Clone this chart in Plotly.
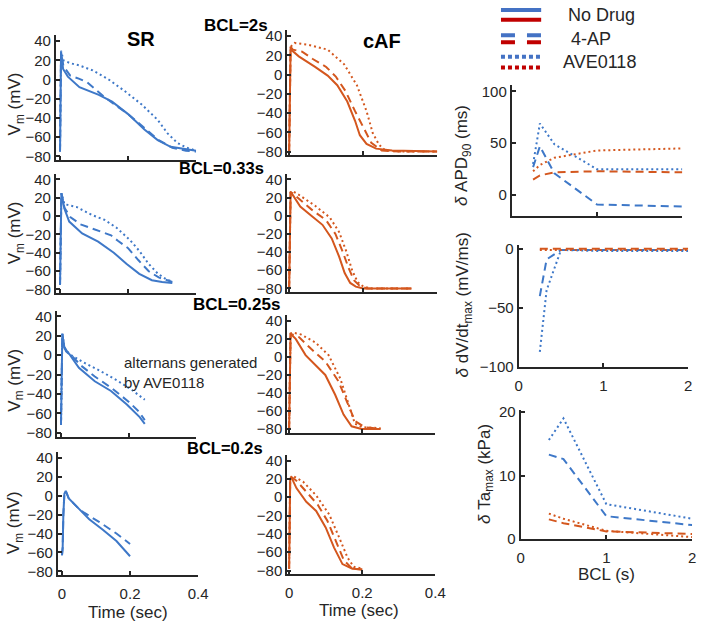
import plotly.graph_objects as go

W, H = 708, 630
FONT = "Liberation Sans, Arial, sans-serif"
AX = "#262626"
BLUE = "#3E78C8"
ORANGE = "#D4571E"
LEG_BLUE = "#4472C4"
LEG_RED = "#C00000"

# ---------------- data: SR action potentials (time s, Vm mV) ----------------
sr2_t_nd = [0, 0.003, 0.009, 0.023, 0.057, 0.114, 0.153, 0.2, 0.248, 0.287, 0.325, 0.373, 0.4]
sr2_v_nd = [-75, 29, 11, 3, -8, -16, -23, -36, -52, -63, -70, -73, -74]
sr2_t_4ap = [0, 0.003, 0.01, 0.03, 0.055, 0.08, 0.1, 0.13, 0.16, 0.2, 0.25, 0.29, 0.33, 0.37, 0.4]
sr2_v_4ap = [-75, 28, 14, 4, 1, -3, -9, -18, -26, -36, -51, -63, -71, -74, -75]
sr2_t_ave = [0, 0.003, 0.01, 0.03, 0.057, 0.096, 0.143, 0.19, 0.24, 0.287, 0.316, 0.345, 0.373, 0.4]
sr2_v_ave = [-75, 30, 20, 17, 14.6, 9.5, 0, -12, -26, -42, -56, -66, -71, -74]

sr33_t_nd = [0, 0.004, 0.013, 0.027, 0.065, 0.112, 0.158, 0.195, 0.233, 0.27, 0.3, 0.33]
sr33_v_nd = [-75, 25, 8, -6, -19, -28, -40, -52, -63, -70, -72, -73]
sr33_t_4ap = [0, 0.004, 0.013, 0.03, 0.06, 0.09, 0.12, 0.15, 0.17, 0.2, 0.23, 0.26, 0.29, 0.33]
sr33_v_4ap = [-75, 25, 9, -1, -9, -13, -17, -21, -27, -35, -48, -60, -67, -72]
sr33_t_ave = [0, 0.004, 0.013, 0.048, 0.095, 0.13, 0.167, 0.205, 0.233, 0.26, 0.288, 0.316, 0.33]
sr33_v_ave = [-75, 25, 13, 10, 1, -4, -13, -26, -38, -52, -63, -70, -71]

sr25_t_nd = [0, 0.004, 0.01, 0.015, 0.025, 0.053, 0.1, 0.148, 0.195, 0.233, 0.248]
sr25_v_nd = [-72, 22, 8, 4, 1, -13, -27, -37, -51, -64, -71]
sr25_t_4ap = [0, 0.004, 0.01, 0.02, 0.03, 0.06, 0.1, 0.15, 0.2, 0.23, 0.248]
sr25_v_4ap = [-72, 22, 8, 3, 0, -11, -22, -34, -48, -58, -67]
sr25_t_ave = [0, 0.004, 0.01, 0.02, 0.03, 0.07, 0.12, 0.17, 0.21, 0.248]
sr25_v_ave = [-72, 22, 8, 3, 0, -8, -17, -27, -36, -46]

sr20_t_nd = [0, 0.002, 0.004, 0.007, 0.011, 0.02, 0.05, 0.08, 0.12, 0.16, 0.2]
sr20_v_nd = [-63, -55, -20, 2, 5, -3, -14, -25, -36, -48, -64]
sr20_t_4ap = [0, 0.002, 0.004, 0.007, 0.011, 0.02, 0.05, 0.065, 0.11, 0.16, 0.2]
sr20_v_4ap = [-63, -55, -20, 2, 5, -3, -14, -18, -28, -40, -51]

# ---------------- data: cAF action potentials ----------------
caf2_t_nd = [0, 0.004, 0.008, 0.026, 0.07, 0.104, 0.13, 0.157, 0.178, 0.191, 0.209, 0.235, 0.278, 0.4]
caf2_v_nd = [-80, 29, 25, 19, 8, -1, -11, -28, -48, -63, -72, -77, -79, -80]
caf2_t_4ap = [0, 0.004, 0.01, 0.035, 0.065, 0.1, 0.126, 0.152, 0.178, 0.205, 0.222, 0.25, 0.3, 0.4]
caf2_v_4ap = [-80, 29, 26, 24, 16, 8, -2, -17, -38, -58, -71, -79, -80, -80]
caf2_t_ave = [0, 0.004, 0.015, 0.053, 0.104, 0.148, 0.183, 0.209, 0.226, 0.243, 0.26, 0.3, 0.4]
caf2_v_ave = [-80, 29, 33, 31, 26, 11, -11, -38, -61, -73, -79, -80, -80]

caf33_t_nd = [0, 0.004, 0.008, 0.03, 0.06, 0.09, 0.115, 0.135, 0.15, 0.165, 0.18, 0.2, 0.33]
caf33_v_nd = [-80, 26, 24, 10, 0, -10, -25, -45, -63, -74, -78, -80, -80]
caf33_t_4ap = [0, 0.004, 0.008, 0.03, 0.06, 0.1, 0.125, 0.145, 0.16, 0.175, 0.19, 0.21, 0.33]
caf33_v_4ap = [-80, 26, 25, 17, 7, -5, -20, -40, -57, -71, -77, -80, -80]
caf33_t_ave = [0, 0.004, 0.01, 0.03, 0.07, 0.11, 0.135, 0.155, 0.17, 0.185, 0.2, 0.22, 0.33]
caf33_v_ave = [-80, 26, 27, 22, 11, -2, -18, -40, -60, -73, -78, -80, -80]

caf25_t_nd = [0, 0.004, 0.008, 0.018, 0.045, 0.072, 0.099, 0.126, 0.149, 0.171, 0.198, 0.25]
caf25_v_nd = [-80, 26, 24, 20, 2, -9, -20, -42, -64, -77, -80, -80]
caf25_t_4ap = [0, 0.004, 0.008, 0.027, 0.06, 0.099, 0.135, 0.158, 0.18, 0.207, 0.25]
caf25_v_4ap = [-80, 26, 25, 22, 9, -5, -27, -49, -71, -78, -80]
caf25_t_ave = [0, 0.004, 0.01, 0.032, 0.072, 0.108, 0.14, 0.162, 0.18, 0.2, 0.25]
caf25_v_ave = [-80, 26, 27, 25, 16, 2, -24, -53, -74, -78, -79]

caf20_t_nd = [0, 0.003, 0.006, 0.02, 0.047, 0.074, 0.1, 0.123, 0.146, 0.173, 0.2]
caf20_v_nd = [-78, 20, 22, 10, -5, -15, -33, -55, -73, -78, -79]
caf20_t_4ap = [0, 0.003, 0.006, 0.02, 0.047, 0.078, 0.105, 0.128, 0.15, 0.173, 0.2]
caf20_v_4ap = [-78, 20, 22, 18, 6, -8, -26, -48, -69, -78, -79]
caf20_t_ave = [0, 0.003, 0.011, 0.038, 0.074, 0.11, 0.137, 0.16, 0.177, 0.2]
caf20_v_ave = [-78, 20, 23, 17, 2, -19, -44, -66, -76, -78]

# ---------------- data: drug effects vs BCL ----------------
bcl_apd = [0.25, 0.33, 0.5, 1, 2]
apd_sr_4ap = [27, 47, 21, -9, -11]
apd_sr_ave = [30, 69, 49, 25, 25]
apd_caf_4ap = [15, 19, 22, 23, 22]
apd_caf_ave = [23, 29, 36, 43, 45]

bcl_dvdt = [0.25, 0.33, 0.5, 1, 2]
dvdt_sr_4ap = [-40, -9, -1, -1, -1]
dvdt_sr_ave = [-87, -35, -1, -2, -2]
dvdt_caf_4ap = [0, 0, 0, 0, 0]
dvdt_caf_ave = [-1, -1, -1, -1, -1]

bcl_ta = [0.33, 0.5, 1, 2]
ta_sr_4ap = [13.3, 12.6, 3.6, 2.2]
ta_sr_ave = [15.6, 19.0, 5.5, 3.2]
ta_caf_4ap = [3.1, 2.5, 1.2, 0.8]
ta_caf_ave = [4.0, 3.2, 1.3, 0.3]

vm_ticks = [-80, -60, -40, -20, 0, 20, 40]
t_ticks = [0, 0.2, 0.4]

# ---------------- layout helpers ----------------
def dx(a, b):
    return [a / W, b / W]

def dy(top, bottom):
    return [1 - bottom / H, 1 - top / H]

DASH = "8px,5px"
DOT = "2px,3px"

# panels: key -> (x px domain, y px domain, x range, y range)
panels = [
    ("sr2", (53, 196), (29, 157), [-0.012, 0.4], [-84, 46]),
    ("caf2", (289, 442), (24, 152), [-0.005, 0.4], [-84, 46]),
    ("sr33", (53, 196), (171, 293), [-0.012, 0.4], [-84, 46]),
    ("caf33", (289, 442), (171, 292), [-0.005, 0.4], [-84, 46]),
    ("sr25", (54, 196), (311, 440), [-0.012, 0.4], [-84, 46]),
    ("caf25", (289, 440), (316, 436), [-0.005, 0.4], [-84, 46]),
    ("sr20", (55, 198), (456, 582), [-0.012, 0.4], [-84, 46]),
    ("caf20", (289, 440), (459, 581), [-0.005, 0.4], [-84, 46]),
    ("apd", (518, 692), (80, 214), [0, 2], [-20, 106]),
    ("dvdt", (525, 698), (244, 369), [0, 2], [-100, 3]),
    ("ta", (527, 702), (413, 545), [0, 2], [0, 20.3]),
]

series = {
    "sr2": [(sr2_t_nd, sr2_v_nd, BLUE, "solid"), (sr2_t_4ap, sr2_v_4ap, BLUE, DASH), (sr2_t_ave, sr2_v_ave, BLUE, DOT)],
    "sr33": [(sr33_t_nd, sr33_v_nd, BLUE, "solid"), (sr33_t_4ap, sr33_v_4ap, BLUE, DASH), (sr33_t_ave, sr33_v_ave, BLUE, DOT)],
    "sr25": [(sr25_t_nd, sr25_v_nd, BLUE, "solid"), (sr25_t_4ap, sr25_v_4ap, BLUE, DASH), (sr25_t_ave, sr25_v_ave, BLUE, DOT)],
    "sr20": [(sr20_t_nd, sr20_v_nd, BLUE, "solid"), (sr20_t_4ap, sr20_v_4ap, BLUE, DASH)],
    "caf2": [(caf2_t_nd, caf2_v_nd, ORANGE, "solid"), (caf2_t_4ap, caf2_v_4ap, ORANGE, DASH), (caf2_t_ave, caf2_v_ave, ORANGE, DOT)],
    "caf33": [(caf33_t_nd, caf33_v_nd, ORANGE, "solid"), (caf33_t_4ap, caf33_v_4ap, ORANGE, DASH), (caf33_t_ave, caf33_v_ave, ORANGE, DOT)],
    "caf25": [(caf25_t_nd, caf25_v_nd, ORANGE, "solid"), (caf25_t_4ap, caf25_v_4ap, ORANGE, DASH), (caf25_t_ave, caf25_v_ave, ORANGE, DOT)],
    "caf20": [(caf20_t_nd, caf20_v_nd, ORANGE, "solid"), (caf20_t_4ap, caf20_v_4ap, ORANGE, DASH), (caf20_t_ave, caf20_v_ave, ORANGE, DOT)],
    "apd": [(bcl_apd, apd_caf_4ap, ORANGE, DASH), (bcl_apd, apd_caf_ave, ORANGE, DOT),
            (bcl_apd, apd_sr_4ap, BLUE, DASH), (bcl_apd, apd_sr_ave, BLUE, DOT)],
    "dvdt": [(bcl_dvdt, dvdt_sr_4ap, BLUE, DASH), (bcl_dvdt, dvdt_sr_ave, BLUE, DOT),
             (bcl_dvdt, dvdt_caf_4ap, ORANGE, DASH), (bcl_dvdt, dvdt_caf_ave, ORANGE, DOT)],
    "ta": [(bcl_ta, ta_sr_4ap, BLUE, DASH), (bcl_ta, ta_sr_ave, BLUE, DOT),
           (bcl_ta, ta_caf_4ap, ORANGE, DASH), (bcl_ta, ta_caf_ave, ORANGE, DOT)],
}

fig = go.Figure()
layout = dict(
    width=W, height=H, margin=dict(l=0, r=0, t=0, b=0),
    paper_bgcolor="white", plot_bgcolor="white", showlegend=False,
    font=dict(family=FONT, color=AX, size=15),
)

axis_common = dict(showline=True, linecolor=AX, linewidth=2, ticks="inside", tickcolor=AX,
                   ticklen=4, tickwidth=1.5, showgrid=False, zeroline=False,
                   tickfont=dict(family=FONT, size=15, color=AX))

for i, (key, xd, yd, xr, yr) in enumerate(panels):
    n = i + 1
    xa = "xaxis" if n == 1 else f"xaxis{n}"
    ya = "yaxis" if n == 1 else f"yaxis{n}"
    xs = "x" if n == 1 else f"x{n}"
    ys = "y" if n == 1 else f"y{n}"
    xcfg = dict(axis_common, domain=dx(*xd), range=xr, anchor=ys, ticklabelstandoff=4)
    ycfg = dict(axis_common, domain=dy(*yd), range=yr, anchor=xs)
    if key in ("apd", "dvdt", "ta"):
        xcfg.update(tickvals=[0, 1, 2], ticktext=["0", "1", "2"])
        if key == "apd":
            xcfg.update(showticklabels=False)
            ycfg.update(tickvals=[0, 50, 100])
        elif key == "dvdt":
            ycfg.update(tickvals=[-100, -50, 0])
        else:
            ycfg.update(tickvals=[0, 10, 20])
    else:
        xcfg.update(tickvals=t_ticks, ticktext=["0", "0.2", "0.4"],
                    showticklabels=key in ("sr20", "caf20"))
        ycfg.update(tickvals=vm_ticks)
    layout[xa] = xcfg
    layout[ya] = ycfg
    for (xv, yv, col, dash) in series[key]:
        fig.add_trace(go.Scatter(x=xv, y=yv, mode="lines", xaxis=xs, yaxis=ys,
                                 line=dict(color=col, width=2, dash=dash),
                                 hoverinfo="skip"))

fig.update_layout(**layout)

def ann(text, x, y, size=15, bold=False, angle=0, xanchor="center", yanchor="middle", align="center"):
    if bold:
        text = f"<b>{text}</b>"
    fig.add_annotation(text=text, x=x / W, y=1 - y / H, xref="paper", yref="paper",
                       showarrow=False, textangle=angle, xanchor=xanchor, yanchor=yanchor,
                       align=align, font=dict(family=FONT, size=size, color="black" if bold else AX))

# titles
ann("SR", 140, 33, size=20, bold=True)
ann("cAF", 386, 35, size=20, bold=True)
ann("BCL=2s", 237, 19, size=17, bold=True)
ann("BCL=0.33s", 267, 165, size=16.5, bold=True, xanchor="right")
ann("BCL=0.25s", 237, 305, size=17, bold=True)
ann("BCL=0.2s", 266, 452, size=16.5, bold=True, xanchor="right")

# y titles for AP panels
for yc in (99, 231, 382, 528):
    ann("V<sub>m</sub> (mV)", 12, yc, size=17, angle=-90)

ann("Time (sec)", 127, 620, size=17)
ann("Time (sec)", 362, 618, size=17)
ann("alternans generated<br>by AVE0118", 120, 374, size=15, xanchor="left", align="left")

# right column titles
ann("<i>δ</i> APD<sub>90</sub> (ms)", 469, 152, size=17, angle=-90)
ann("<i>δ</i> dV/dt<sub>max</sub> (mV/ms)", 469, 305, size=17, angle=-90)
ann("<i>δ</i> Ta<sub>max</sub> (kPa)", 491, 478, size=17, angle=-90)
ann("BCL (s)", 615, 581, size=17)

# legend (drawn manually)
leg = [
    (3, LEG_BLUE, "solid"), (13, LEG_RED, "solid"),
    (29, LEG_BLUE, "14px,12px"), (36, LEG_RED, "14px,12px"),
    (51, LEG_BLUE, "4px,3px"), (62, LEG_RED, "4px,3px"),
]
for y, col, dash in leg:
    fig.add_shape(type="line", xref="paper", yref="paper", x0=507 / W, x1=548 / W,
                  y0=1 - y / H, y1=1 - y / H, line=dict(color=col, width=4, dash=dash))
ann("No Drug", 573, 8, size=18, xanchor="left")
ann("4-AP", 576, 33, size=18, xanchor="left")
ann("AVE0118", 568, 56, size=18, xanchor="left")

fig.write_html("out.html")
